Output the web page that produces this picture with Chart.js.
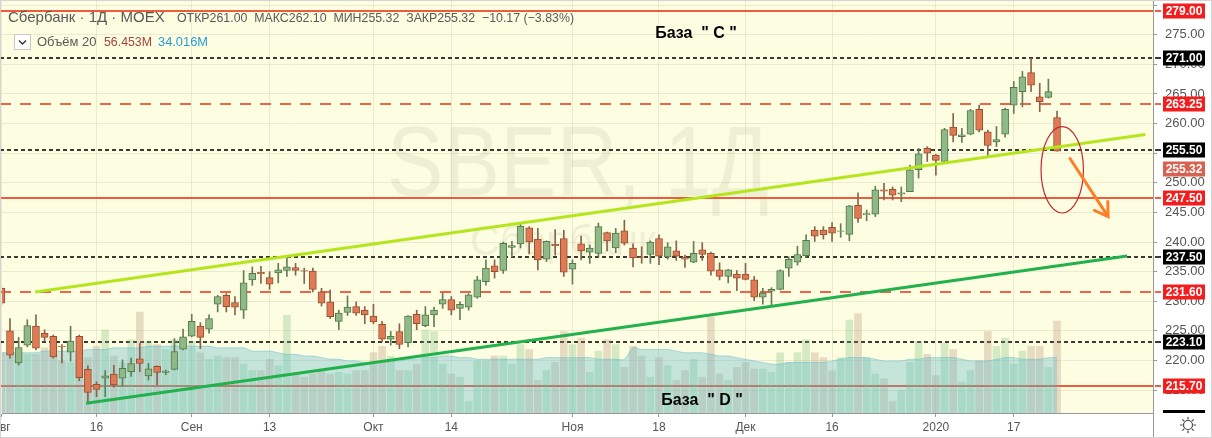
<!DOCTYPE html>
<html>
<head>
<meta charset="utf-8">
<script src="https://cdn.jsdelivr.net/npm/chart.js@4.4.0/dist/chart.umd.min.js"></script>
<style>
  html, body { margin: 0; padding: 0; background: #fff; }
  #wrap { position: relative; width: 1212px; height: 438px; }
</style>
</head>
<body>
<div id="wrap"><canvas id="chart" width="1212" height="438"></canvas></div>
<script>
const FONT = '"Liberation Sans", Arial, sans-serif';

// daily candles, index 0 = 1 Aug 2019, last = 24 Jan 2020
const opens = [232.2,225.0,219.6,222.6,225.8,224.6,224.1,222.4,221.4,224.1, 218.5,216.0,217.0,217.7,217.0,218.1,220.3,217.4,219.0,218.0,
  218.5,221.9,224.1,225.8,225.3,229.5,231.0,229.8,228.5,233.6, 234.9,234.0,234.8,235.2,235.7,235.2,235.1,231.6,229.9,226.6,
  228.1,229.1,228.5,227.5,226.1,223.6,224.9,223.0,227.8,225.9, 227.7,229.5,230.3,228.8,229.0,230.7,233.3,236.0,235.2,239.1,
  239.7,242.4,240.5,237.1,239.6,240.6,235.4,239.7,238.3,238.1, 241.6,239.0,241.9,239.0,237.5,237.9,240.6,237.5,238.5,237.4,
  236.6,238.7,238.1,235.3,234.2,234.6,234.6,233.6,230.7,231.7, 232.0,235.6,236.6,237.7,242.0,242.0,242.5,241.8,241.3,246.2,
  244.6,244.7,248.8,248.9,248.1,248.5,252.2,255.8,254.7,253.6, 259.4,257.8,258.2,262.4,258.6,256.9,258.2,263.1,265.4,268.6,
  264.5,264.4,261.0];
const highs = [232.6,227.1,223.9,226.9,227.7,225.2,224.3,222.7,225.8,224.3, 219.1,216.4,218.3,219.2,220.1,220.4,222.9,219.5,219.1,218.4,
  223.7,225.3,227.8,226.4,227.7,231.0,231.3,230.8,235.2,235.8, 235.9,235.0,236.4,237.3,236.4,235.6,235.6,232.2,231.9,228.5,
  230.9,229.9,229.1,229.5,226.6,224.9,226.2,227.6,228.5,229.1, 229.0,231.4,230.8,229.9,231.3,234.2,237.0,237.0,240.0,240.1,
  243.2,242.6,242.3,240.2,242.1,242.0,237.0,241.0,239.5,243.2, 241.7,242.3,243.7,239.7,239.2,240.2,241.2,239.9,240.2,237.8,
  240.1,239.9,238.3,236.5,235.4,235.2,236.4,234.2,232.2,232.3, 235.3,237.5,239.3,241.2,242.6,242.6,243.3,243.1,246.2,248.3,
  245.4,249.4,249.9,249.3,249.3,253.0,255.8,256.1,254.8,259.2, 261.7,259.2,262.4,263.1,258.9,259.5,262.6,267.1,268.8,271.0,
  266.8,267.5,262.1];
const lows = [229.3,220.4,219.2,222.3,221.8,223.2,220.4,219.6,219.9,216.6, 213.0,213.9,213.9,215.5,215.6,217.3,218.1,216.7,215.9,217.6,
  218.4,221.8,224.0,222.0,224.6,228.2,228.2,227.7,227.1,232.7, 233.0,232.0,233.1,234.2,234.4,233.0,231.6,229.2,227.1,225.2,
  227.6,227.6,226.2,226.2,223.2,222.6,222.0,222.3,225.2,225.7, 225.7,228.8,227.7,226.9,228.5,230.5,232.7,233.9,234.7,237.5,
  239.0,238.0,235.3,236.7,237.8,234.2,232.9,237.0,236.4,237.5, 238.5,238.2,239.5,235.8,236.4,236.4,236.2,237.1,236.9,235.7,
  236.5,236.9,234.4,233.6,233.1,231.8,233.6,230.1,229.5,229.4, 231.9,234.2,236.1,237.4,240.1,240.5,240.1,240.8,240.2,243.3,
  243.6,244.3,247.1,247.1,246.8,248.5,250.8,253.6,251.3,253.3, 256.9,256.8,258.1,258.6,254.5,256.1,257.7,261.7,262.8,265.4,
  262.0,264.3,255.32];
const closes = [229.7,220.9,222.2,225.9,222.1,223.9,220.6,222.3,223.3,217.1, 214.6,215.1,217.4,215.9,218.7,219.5,219.5,218.6,218.0,218.2,
  221.5,224.0,226.6,223.9,227.1,230.8,229.1,229.0,233.1,234.7, 234.6,232.9,235.3,235.8,235.2,235.1,232.0,229.7,227.4,228.0,
  229.0,228.0,227.7,226.5,223.6,224.1,222.7,227.5,226.2,227.7, 228.5,230.3,228.5,229.5,231.1,233.6,235.6,235.0,239.8,239.4,
  242.7,240.0,237.0,240.1,239.4,234.9,236.4,238.5,239.0,242.6, 240.2,241.5,239.8,237.3,237.4,240.0,237.6,239.2,237.6,237.1,
  238.1,237.9,235.1,234.2,235.3,233.9,233.7,230.7,231.4,232.0, 235.2,237.1,237.9,240.3,241.0,241.2,241.5,241.9,246.1,244.0,
  244.8,248.8,248.6,247.9,248.3,252.2,254.9,255.0,253.8,259.0, 258.0,258.1,262.2,258.9,256.3,257.3,262.4,266.1,267.9,266.5,
  263.7,265.4,255.32];

// volume, millions, and its 20-day average
const volumes = [37,37,36,36,36,40,34,32,31,34, 34,41,51,35,31,45,62,44,42,39, 45,46,44,37,33,35,34,34,30,26,
  26,33,29,60,24,22,24,26,24,25, 24,26,26,37,41,35,26,26,30,51, 50,30,24,22,7,32,32,35,35,30,
  42,39,20,26,31,50,42,46,25,38, 45,42,28,41,35,22,34,29,20,26, 33,22,59,24,20,28,31,27,27,25,
  37,31,37,45,37,34,26,34,57,61, 34,24,21,7,14,31,44,36,23,43, 39,19,26,32,50,41,46,30,38,41,
  41,28,56.45];
const volumeMA = [37,37,37,37,37, 38,38,38,38,38, 39,39,39, 40,40,40,40, 41,41,41,41,41,41,41,41,
  40,40,40,40, 38,38,38, 37,36,36, 35,35, 34,33,33, 32,32,31,31,31,32,32, 33,33,34,34,35,35,
  34,34,33,33,33,33,33,33,33,33,34,34,34,34, 34,34,33,33,33,33, 40, 39,39,39,39, 38,37,37,37,
  36,35,35,34, 33,32,31,30, 30,31,31, 31,31,31,32, 33,34,34,34, 33,32,32,32, 33,33,34,34,34,34,
  33,32,32,32, 33,34,34, 33,33,33, 34,34];

const tickIdx = [0, 11, 22, 31, 43, 52, 66, 76, 86, 96, 108, 117];
const tickText = ['Авг', '16', 'Сен', '13', 'Окт', '14', 'Ноя', '18', 'Дек', '16', '2020', '17'];

// horizontal levels drawn on the chart
const levelValues = [279.00, 271.00, 263.25, 255.50, 247.50, 237.50, 231.60, 223.10, 215.70];
const levelKinds  = ['solid', 'dot', 'dash', 'dot', 'solid', 'dot', 'dash', 'dot', 'solid'];
const lastPrice = 255.32;

// channel lines: [bar index, price]
const trendUpper = [[3.9, 231.57], [132.2, 258.15]];
const trendLower = [[9.8, 212.78], [130.1, 237.64]];

// hand-drawn marks near the last candle
const ellipseCenter = [122.6, 252.2];
const ellipseRadius = [2.45, 7.3];
const arrowFrom = [123.5, 254.1];
const arrowTo = [127.9, 244.3];

const levelStyle = {
  solid: { color: '#ef5b3d', dash: [], box: '#f21d1d' },
  dash:  { color: '#ef6349', dash: [11, 9], box: '#f21d1d' },
  dot:   { color: '#3a3a30', dash: [4, 3], box: '#000000' }
};

const idx = opens.map((_, i) => i);
const isUp = idx.map(i => closes[i] >= opens[i]);

const bgPlugin = {
  id: 'bg',
  beforeDraw(chart) {
    const { ctx, chartArea: a } = chart;
    ctx.save();
    ctx.fillStyle = '#ffffff';
    ctx.fillRect(0, 0, chart.width, chart.height);
    ctx.fillStyle = '#fdfde1';
    ctx.fillRect(0, a.top, a.right, a.bottom - a.top);
    ctx.restore();
  }
};

const levelPlugin = {
  id: 'levels',
  beforeDatasetsDraw(chart) {
    const { ctx, chartArea: a } = chart;
    const ys = chart.scales.y;
    ctx.save();
    ctx.beginPath();
    ctx.rect(0, a.top, a.right, a.bottom - a.top);
    ctx.clip();

    // watermark
    ctx.fillStyle = 'rgba(0,0,0,0.055)';
    ctx.textAlign = 'center';
    ctx.textBaseline = 'alphabetic';
    ctx.font = '100px ' + FONT;
    ctx.fillText('SBER, 1Д', 578, 196, 382);
    ctx.font = '42px ' + FONT;
    ctx.fillText('Сбербанк', 563, 255, 186);

    levelValues.forEach((v, k) => {
      const st = levelStyle[levelKinds[k]];
      const y = Math.round(ys.getPixelForValue(v));
      ctx.strokeStyle = st.color;
      ctx.lineWidth = 2;
      ctx.setLineDash(st.dash);
      ctx.beginPath();
      ctx.moveTo(0, y);
      ctx.lineTo(a.right, y);
      ctx.stroke();
    });
    ctx.restore();
  },
  afterDatasetsDraw(chart) {
    const { ctx, chartArea: a } = chart;
    const xs = chart.scales.x, ys = chart.scales.y;
    ctx.save();
    ctx.beginPath();
    ctx.rect(0, a.top, a.right, a.bottom - a.top);
    ctx.clip();

    // ellipse
    const cx = xs.getPixelForValue(ellipseCenter[0]);
    const cy = ys.getPixelForValue(ellipseCenter[1]);
    const rx = xs.getPixelForValue(ellipseCenter[0] + ellipseRadius[0]) - cx;
    const ry = cy - ys.getPixelForValue(ellipseCenter[1] + ellipseRadius[1]);
    ctx.strokeStyle = '#c8262c';
    ctx.lineWidth = 1.2;
    ctx.beginPath();
    ctx.ellipse(cx, cy, rx, ry, 0, 0, Math.PI * 2);
    ctx.stroke();

    // arrow
    const x1 = xs.getPixelForValue(arrowFrom[0]), y1 = ys.getPixelForValue(arrowFrom[1]);
    const x2 = xs.getPixelForValue(arrowTo[0]), y2 = ys.getPixelForValue(arrowTo[1]);
    const ang = Math.atan2(y2 - y1, x2 - x1);
    ctx.strokeStyle = '#ff7f27';
    ctx.lineWidth = 3;
    ctx.lineCap = 'round';
    ctx.beginPath();
    ctx.moveTo(x1, y1);
    ctx.lineTo(x2, y2);
    ctx.moveTo(x2 - 15 * Math.cos(ang - 0.56), y2 - 15 * Math.sin(ang - 0.56));
    ctx.lineTo(x2, y2);
    ctx.lineTo(x2 - 15 * Math.cos(ang + 0.56), y2 - 15 * Math.sin(ang + 0.56));
    ctx.stroke();

    // base labels
    ctx.fillStyle = '#000';
    ctx.font = 'bold 16px ' + FONT;
    ctx.textAlign = 'center';
    ctx.textBaseline = 'middle';
    ctx.fillText('База  " C "', 696, 34);
    ctx.fillText('База  " D "', 702, 401);
    ctx.restore();
  }
};

const overlayPlugin = {
  id: 'overlay',
  afterDraw(chart) {
    const { ctx, chartArea: a } = chart;
    const ys = chart.scales.y;
    ctx.save();

    // legend header
    ctx.textAlign = 'left';
    ctx.textBaseline = 'middle';
    ctx.fillStyle = '#5a5a5a';
    ctx.font = '15px ' + FONT;
    ctx.fillText('Сбербанк · 1Д · MOEX', 8, 18, 160);
    ctx.font = '13px ' + FONT;
    ctx.fillText('ОТКР261.00  МАКС262.10  МИН255.32  ЗАКР255.32  −10.17 (−3.83%)', 177, 18, 397);

    ctx.fillStyle = '#ffffff';
    ctx.strokeStyle = '#c8c8c8';
    ctx.lineWidth = 1;
    ctx.fillRect(14.5, 34.5, 16, 15);
    ctx.strokeRect(14.5, 34.5, 16, 15);
    ctx.strokeStyle = '#333';
    ctx.lineWidth = 1.4;
    ctx.beginPath();
    ctx.moveTo(19, 40.5); ctx.lineTo(22.5, 44); ctx.lineTo(26, 40.5);
    ctx.stroke();

    ctx.font = '13px ' + FONT;
    ctx.fillStyle = '#5a5a5a';
    ctx.fillText('Объём 20', 37, 42, 62);
    ctx.fillStyle = '#a2463b';
    ctx.fillText('56.453M', 104, 42, 48);
    ctx.fillStyle = '#2d9bd6';
    ctx.fillText('34.016M', 158, 42, 50);

    // price labels on the right axis
    const box = (color, y, text) => {
      ctx.fillStyle = color;
      ctx.fillRect(1163, y - 7.5, 42, 15);
      ctx.fillStyle = '#ffffff';
      ctx.font = 'bold 12px ' + FONT;
      ctx.textAlign = 'center';
      ctx.fillText(text, 1184, y + 0.5);
    };
    levelValues.forEach((v, k) => {
      const st = levelStyle[levelKinds[k]];
      const y = Math.round(ys.getPixelForValue(v));
      ctx.strokeStyle = st.color;
      ctx.lineWidth = 2;
      ctx.beginPath();
      ctx.moveTo(a.right + 2, y);
      ctx.lineTo(a.right + 8, y);
      ctx.stroke();
      box(st.box, y, v.toFixed(2));
    });
    box('#d9614f', Math.round(ys.getPixelForValue(lastPrice)) + 18, lastPrice.toFixed(2));

    ctx.fillStyle = '#000';
    ctx.fillRect(1163, a.bottom - 3, 42, 3);

    // bottom-right corner
    ctx.strokeStyle = '#999';
    ctx.lineWidth = 1;
    ctx.beginPath();
    ctx.moveTo(a.right + 0.5, a.bottom);
    ctx.lineTo(a.right + 0.5, chart.height);
    ctx.stroke();
    const sx = 1188, sy = 425;
    ctx.strokeStyle = '#444';
    ctx.lineWidth = 1.2;
    ctx.beginPath();
    ctx.arc(sx, sy, 4.5, 0, Math.PI * 2);
    ctx.stroke();
    ctx.beginPath();
    for (let k = 0; k < 8; k++) {
      const t = k * Math.PI / 4;
      ctx.moveTo(sx + 5.5 * Math.cos(t), sy + 5.5 * Math.sin(t));
      ctx.lineTo(sx + 8 * Math.cos(t), sy + 8 * Math.sin(t));
    }
    ctx.stroke();

    ctx.strokeStyle = '#d4d4d4';
    ctx.lineWidth = 1;
    ctx.strokeRect(0.5, 0.5, chart.width - 1, chart.height - 1);
    ctx.restore();
  }
};

new Chart(document.getElementById('chart'), {
  type: 'bar',
  data: {
    datasets: [
      {
        type: 'bar',
        data: idx.map(i => ({ x: i, y: volumes[i] })),
        yAxisID: 'yv',
        backgroundColor: idx.map(i => isUp[i] ? 'rgba(124,191,127,0.3)' : 'rgba(181,147,117,0.3)'),
        barThickness: 7,
        grouped: false,
        clip: 0,
        order: 10
      },
      {
        type: 'line',
        data: idx.map(i => ({ x: i, y: volumeMA[i] })),
        yAxisID: 'yv',
        fill: 'origin',
        backgroundColor: 'rgba(86,182,206,0.33)',
        borderColor: 'rgba(86,182,206,0.45)',
        borderWidth: 1,
        pointRadius: 0,
        tension: 0.3,
        clip: 0,
        order: 9
      },
      {
        type: 'bar',
        data: idx.map(i => ({ x: i, y: [lows[i], highs[i]] })),
        backgroundColor: idx.map(i => isUp[i] ? '#667d58' : '#86654c'),
        barThickness: 1,
        grouped: false,
        clip: 0,
        order: 3
      },
      {
        type: 'bar',
        data: idx.map(i => ({ x: i, y: [opens[i], closes[i]] })),
        backgroundColor: idx.map(i => isUp[i] ? '#8fba87' : '#e07a54'),
        borderColor: idx.map(i => isUp[i] ? '#54784a' : '#955032'),
        borderWidth: 1,
        borderSkipped: false,
        barThickness: 7,
        grouped: false,
        clip: 0,
        order: 2
      },
      {
        type: 'line',
        data: trendUpper.map(p => ({ x: p[0], y: p[1] })),
        borderColor: '#b5e61d',
        borderWidth: 3,
        pointRadius: 0,
        clip: 0,
        order: 1
      },
      {
        type: 'line',
        data: trendLower.map(p => ({ x: p[0], y: p[1] })),
        borderColor: '#22b14c',
        borderWidth: 3,
        pointRadius: 0,
        clip: 0,
        order: 1
      }
    ]
  },
  options: {
    responsive: false,
    animation: false,
    devicePixelRatio: 1,
    events: [],
    layout: { padding: { left: 2, top: 0, right: 0, bottom: 0 } },
    plugins: { legend: { display: false }, tooltip: { enabled: false } },
    scales: {
      x: {
        type: 'linear',
        min: 0.075,
        max: 133.09,
        offset: false,
        grid: { offset: false, color: 'rgba(0,0,0,0.07)', tickLength: 4, tickColor: '#999' },
        border: { color: '#999' },
        afterBuildTicks(s) { s.ticks = tickIdx.map(v => ({ value: v })); },
        afterFit(s) { s.height = 25; s.paddingLeft = 0; s.paddingRight = 0; },
        ticks: {
          autoSkip: false,
          maxRotation: 0,
          padding: 3,
          color: '#555',
          font: { family: FONT, size: 12 },
          callback: (v, i) => tickText[i]
        }
      },
      y: {
        position: 'right',
        min: 211.14,
        max: 280.86,
        grid: { color: 'rgba(0,0,0,0.07)', tickLength: 4, tickColor: '#999' },
        border: { color: '#999' },
        afterFit(s) { s.width = 59; s.paddingTop = 0; s.paddingBottom = 0; },
        ticks: {
          stepSize: 5,
          includeBounds: false,
          padding: 8,
          color: '#555',
          font: { family: FONT, size: 13 },
          callback: v => v > 278 ? '' : v.toFixed(2)
        }
      },
      yv: { display: false, min: 0, max: 253.6 }
    }
  },
  plugins: [bgPlugin, levelPlugin, overlayPlugin]
});
</script>
</body>
</html>
